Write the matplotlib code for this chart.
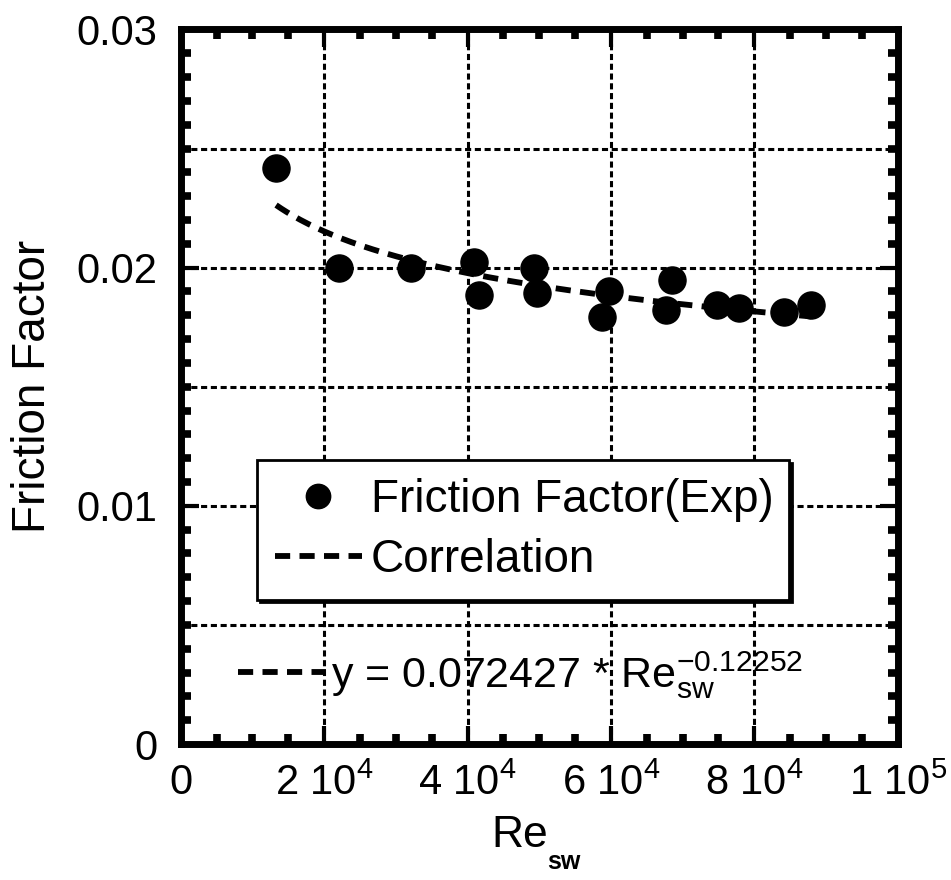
import numpy as np
import matplotlib
matplotlib.use("Agg")
import matplotlib.pyplot as plt
from matplotlib.lines import Line2D
from matplotlib.ticker import MultipleLocator, FixedLocator, FixedFormatter

plt.rcParams['font.family'] = ['Liberation Sans', 'DejaVu Sans']
plt.rcParams['mathtext.fontset'] = 'custom'
plt.rcParams['mathtext.rm'] = 'Liberation Sans'
plt.rcParams['mathtext.it'] = 'Liberation Sans'
plt.rcParams['mathtext.bf'] = 'Liberation Sans:bold'

# ---- data ----
re_sw = [13300, 22100, 32100, 40900, 41600, 49300, 49700, 59700, 58700,
         68500, 67700, 74800, 77800, 84100, 87900]
friction = [0.0242, 0.0200, 0.0200, 0.02025, 0.01887, 0.0200, 0.01895, 0.0190,
            0.01794, 0.0195, 0.01824, 0.01845, 0.01832, 0.01815, 0.01845]
corr_a = 0.072427
corr_b = -0.12252

x_ticks = [0, 20000, 40000, 60000, 80000, 100000]
x_labels = [r'$\mathregular{0}$', r'$\mathregular{2\ 10^{4}}$', r'$\mathregular{4\ 10^{4}}$',
            r'$\mathregular{6\ 10^{4}}$', r'$\mathregular{8\ 10^{4}}$', r'$\mathregular{1\ 10^{5}}$']
y_ticks = [0, 0.01, 0.02, 0.03]
y_labels = ['0', '0.01', '0.02', '0.03']

fig = plt.figure(figsize=(9.51, 8.8), dpi=100)
ax = fig.add_axes([0.190, 0.1545, 0.754, 0.812])

xs = np.linspace(min(re_sw), max(re_sw), 200)
corr_line, = ax.plot(xs, corr_a * xs ** corr_b, color='black', lw=4.2,
                     linestyle=(0, (2.6, 1.6)), zorder=3)
pts, = ax.plot(re_sw, friction, 'o', color='black', markersize=19.5, zorder=4)

ax.set_xlim(0, 100000)
ax.set_ylim(0, 0.03)
ax.xaxis.set_major_locator(FixedLocator(x_ticks))
ax.xaxis.set_major_formatter(FixedFormatter(x_labels))
ax.xaxis.set_minor_locator(MultipleLocator(5000))
ax.yaxis.set_major_locator(FixedLocator(y_ticks))
ax.yaxis.set_major_formatter(FixedFormatter(y_labels))
ax.yaxis.set_minor_locator(MultipleLocator(0.001))

# gridlines at every 2e4 and every 0.005
for gx in np.arange(20000, 100000, 20000):
    ax.axvline(gx, color='black', lw=2.2, linestyle=(0, (2, 1.2)), zorder=1)
for gy in np.arange(0.005, 0.0299, 0.005):
    ax.axhline(gy, color='black', lw=2.2, linestyle=(0, (2, 1.2)), zorder=1)

for s in ax.spines.values():
    s.set_linewidth(5)
ax.tick_params(which='both', direction='in', top=True, right=True, labelsize=30)
ax.tick_params(axis='x', which='major', pad=14)
ax.tick_params(axis='y', which='major', pad=17)
ax.tick_params(which='major', length=13, width=3)
ax.tick_params(which='minor', length=7.5, width=5.5)

ax.set_xlabel('Re', fontsize=32, labelpad=8)
ax.xaxis.label.set_x(0.473)
ax.annotate('sw', xy=(1, 0), xycoords=ax.xaxis.label, xytext=(-1, 4),
            textcoords='offset points', ha='left', va='top',
            fontsize=18, fontweight='bold')
ax.set_ylabel('Friction Factor', fontsize=33, labelpad=15)

leg = ax.legend([pts, corr_line], ['Friction Factor(Exp)', 'Correlation'],
                loc='lower left', bbox_to_anchor=(0.107, 0.202, 0.742, 0.193),
                mode='expand', borderaxespad=0, fontsize=33, frameon=True,
                fancybox=False, edgecolor='black', handlelength=1.9,
                handletextpad=0.2, borderpad=0.38, labelspacing=0.36,
                markerscale=0.9, shadow={'color': 'black', 'alpha': 1})
leg.get_frame().set_linewidth(2)
leg.set_zorder(6)
ax.add_artist(leg)

eq_handle = Line2D([], [], color='black', lw=4.2, linestyle=(0, (2.6, 1.6)))
leg2 = ax.legend([eq_handle],
                 [r'y = 0.072427 * $\mathregular{Re_{sw}^{-0.12252}}$'],
                 loc='center left', bbox_to_anchor=(0.056, 0.097),
                 borderaxespad=0, fontsize=31, frameon=False,
                 handlelength=2.05, handletextpad=0.1)
leg2.set_zorder(6)

fig.savefig('out.png', dpi=100)
